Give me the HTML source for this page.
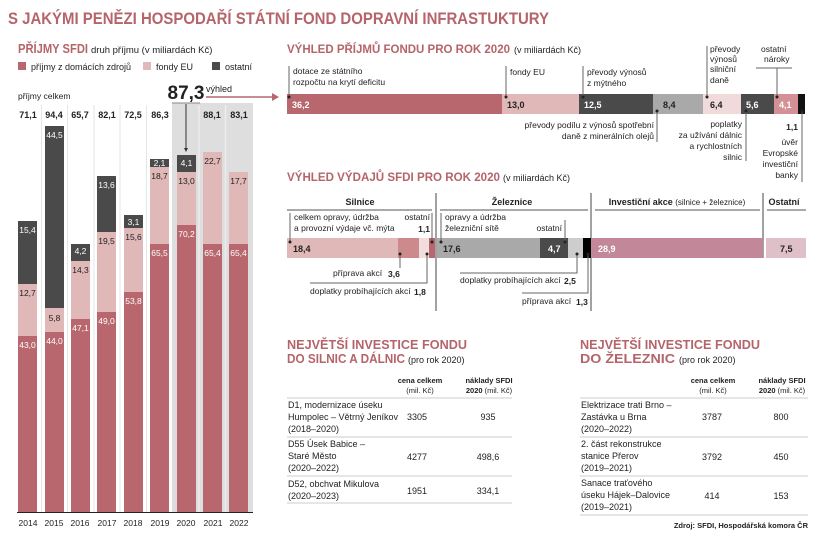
<!DOCTYPE html>
<html><head><meta charset="utf-8"><style>
html,body{margin:0;padding:0;background:#fff}
svg{display:block}
text{font-family:"Liberation Sans",sans-serif;fill:#222}
.b{font-weight:bold}
.r{fill:#b5646a}
.s{font-size:8px}
.w{fill:#fff}
</style></head><body>
<svg width="820" height="544" viewBox="0 0 820 544" xmlns="http://www.w3.org/2000/svg">
<!-- main title -->
<text x="8" y="24" class="b r" font-size="17" textLength="541" lengthAdjust="spacingAndGlyphs">S JAKÝMI PENĚZI HOSPODAŘÍ STÁTNÍ FOND DOPRAVNÍ INFRASTUKTURY</text>
<text x="18" y="53" class="b r" font-size="12.5" textLength="70" lengthAdjust="spacingAndGlyphs">PŘÍJMY SFDI</text>
<text x="91" y="53" font-size="9.5">druh příjmu (v miliardách Kč)</text>
<rect x="18" y="62" width="8" height="8" fill="#b7676d"/><text x="31" y="70" font-size="9">příjmy z domácích zdrojů</text>
<rect x="143" y="62" width="8" height="8" fill="#e0b8b8"/><text x="156" y="70" font-size="9">fondy EU</text>
<rect x="212" y="62" width="8" height="8" fill="#4a4a4a"/><text x="225" y="70" font-size="9">ostatní</text>

<!-- left chart backgrounds -->
<rect x="172" y="103" width="81" height="409" fill="#dedede"/>
<g stroke="#e6e6e6" stroke-width="1">
<line x1="41.5" y1="105" x2="41.5" y2="512"/><line x1="67.5" y1="105" x2="67.5" y2="512"/><line x1="94" y1="105" x2="94" y2="512"/><line x1="120" y1="105" x2="120" y2="512"/><line x1="146.5" y1="105" x2="146.5" y2="512"/>
</g>
<g stroke="#ececec" stroke-width="1.5"><line x1="199" y1="105" x2="199" y2="512"/><line x1="225.5" y1="105" x2="225.5" y2="512"/></g>
<text x="18" y="99" font-size="8.5">příjmy celkem</text>
<g class="b" font-size="9" text-anchor="middle">
<text x="28" y="118">71,1</text><text x="54" y="118">94,4</text><text x="80" y="118">65,7</text><text x="107" y="118">82,1</text><text x="133" y="118">72,5</text><text x="160" y="118">86,3</text><text x="212" y="118">88,1</text><text x="239" y="118">83,1</text>
</g>
<text x="186" y="99" class="b" font-size="19" text-anchor="middle">87,3</text>
<text x="206" y="92" font-size="9">výhled</text>
<line x1="172" y1="103" x2="200" y2="103" stroke="#888"/>
<line x1="206" y1="97" x2="272" y2="97" stroke="#b7676d" stroke-width="1.5"/>
<polygon points="272,93 279,97 272,101" fill="#b7676d"/>
<line x1="186" y1="104" x2="186" y2="150" stroke="#333"/>
<polygon points="184,148 188,148 186,152" fill="#333"/>

<!-- bars -->
<g>
<rect x="18" y="336" width="19" height="176" fill="#b7676d"/><rect x="18" y="284" width="19" height="52" fill="#e0b8b8"/><rect x="18" y="221" width="19" height="63" fill="#4a4a4a"/>
<rect x="45" y="332" width="19" height="180" fill="#b7676d"/><rect x="45" y="308" width="19" height="24" fill="#e0b8b8"/><rect x="45" y="126" width="19" height="182" fill="#4a4a4a"/>
<rect x="71" y="319" width="19" height="193" fill="#b7676d"/><rect x="71" y="261" width="19" height="58" fill="#e0b8b8"/><rect x="71" y="244" width="19" height="17" fill="#4a4a4a"/>
<rect x="97" y="312" width="19" height="200" fill="#b7676d"/><rect x="97" y="232" width="19" height="80" fill="#e0b8b8"/><rect x="97" y="176" width="19" height="56" fill="#4a4a4a"/>
<rect x="124" y="292" width="19" height="220" fill="#b7676d"/><rect x="124" y="228" width="19" height="64" fill="#e0b8b8"/><rect x="124" y="215" width="19" height="13" fill="#4a4a4a"/>
<rect x="150" y="244" width="19" height="268" fill="#b7676d"/><rect x="150" y="167" width="19" height="77" fill="#e0b8b8"/><rect x="150" y="159" width="19" height="8" fill="#4a4a4a"/>
<rect x="177" y="225" width="19" height="287" fill="#b7676d"/><rect x="177" y="172" width="19" height="53" fill="#e0b8b8"/><rect x="177" y="155" width="19" height="17" fill="#4a4a4a"/>
<rect x="203" y="244" width="19" height="268" fill="#b7676d"/><rect x="203" y="152" width="19" height="92" fill="#e0b8b8"/>
<rect x="229" y="244" width="19" height="268" fill="#b7676d"/><rect x="229" y="172" width="19" height="72" fill="#e0b8b8"/>
</g>
<g font-size="8.5" text-anchor="middle">
<text x="27.5" y="348" class="w">43,0</text><text x="27.5" y="296">12,7</text><text x="27.5" y="233" class="w">15,4</text>
<text x="54.5" y="344" class="w">44,0</text><text x="54.5" y="321">5,8</text><text x="54.5" y="138" class="w">44,5</text>
<text x="80.5" y="331" class="w">47,1</text><text x="80.5" y="273">14,3</text><text x="80.5" y="254" class="w">4,2</text>
<text x="106.5" y="324" class="w">49,0</text><text x="106.5" y="244">19,5</text><text x="106.5" y="188" class="w">13,6</text>
<text x="133.5" y="304" class="w">53,8</text><text x="133.5" y="240">15,6</text><text x="133.5" y="225" class="w">3,1</text>
<text x="159.5" y="256" class="w">65,5</text><text x="159.5" y="179">18,7</text><text x="159.5" y="166" class="w">2,1</text>
<text x="186.5" y="237" class="w">70,2</text><text x="186.5" y="184">13,0</text><text x="186.5" y="166" class="w">4,1</text>
<text x="212.5" y="256" class="w">65,4</text><text x="212.5" y="164">22,7</text>
<text x="238.5" y="256" class="w">65,4</text><text x="238.5" y="184">17,7</text>
</g>
<line x1="17" y1="512.5" x2="253" y2="512.5" stroke="#222"/>
<g font-size="8.5" text-anchor="middle">
<text x="28" y="526">2014</text><text x="54" y="526">2015</text><text x="80" y="526">2016</text><text x="107" y="526">2017</text><text x="133" y="526">2018</text><text x="160" y="526">2019</text><text x="186" y="526">2020</text><text x="213" y="526">2021</text><text x="239" y="526">2022</text>
</g>

<!-- income outlook -->
<text x="287" y="53" class="b r" font-size="12" textLength="223" lengthAdjust="spacingAndGlyphs">VÝHLED PŘÍJMŮ FONDU PRO ROK 2020</text>
<text x="514" y="53" font-size="9">(v miliardách Kč)</text>
<rect x="287" y="94" width="215" height="20" fill="#b7676d"/>
<rect x="502" y="94" width="77" height="20" fill="#e0b8b8"/>
<rect x="579" y="94" width="74" height="20" fill="#4a4a4a"/>
<rect x="653" y="94" width="50" height="20" fill="#a9a9a9"/>
<rect x="703" y="94" width="38" height="20" fill="#f0dada"/>
<rect x="741" y="94" width="33" height="20" fill="#4a4a4a"/>
<rect x="774" y="94" width="24" height="20" fill="#d39095"/>
<rect x="798" y="94" width="7" height="20" fill="#111"/>
<g font-size="9" class="b">
<text x="292" y="108" class="w">36,2</text><text x="507" y="108">13,0</text><text x="584" y="108" class="w">12,5</text><text x="663" y="108">8,4</text><text x="710" y="108">6,4</text><text x="746" y="108" class="w">5,6</text><text x="779" y="108" class="w">4,1</text>
</g>
<g stroke="#666" stroke-width="1" fill="none">
<line x1="289" y1="66" x2="289" y2="97"/><line x1="506" y1="66" x2="506" y2="97"/><line x1="583" y1="66" x2="583" y2="97"/><line x1="707" y1="46" x2="707" y2="97"/>
<polyline points="756,68 792,68"/><line x1="777" y1="68" x2="777" y2="97"/>
<line x1="657" y1="111" x2="657" y2="142"/><line x1="746" y1="111" x2="746" y2="161"/><line x1="802" y1="111" x2="802" y2="182"/>
</g>
<g fill="#222"><circle cx="289" cy="97" r="1.5"/><circle cx="506" cy="97" r="1.5"/><circle cx="583" cy="97" r="1.5"/><circle cx="707" cy="97" r="1.5"/><circle cx="777" cy="97" r="1.5"/><circle cx="657" cy="111" r="1.5"/><circle cx="746" cy="111" r="1.5"/><circle cx="802" cy="111" r="1.5"/></g>
<g font-size="8.5">
<text x="293" y="74">dotace ze státního</text><text x="293" y="85">rozpočtu na krytí deficitu</text>
<text x="510" y="75">fondy EU</text>
<text x="587" y="75">převody výnosů</text><text x="587" y="86">z mýtného</text>
<text x="710" y="52">převody</text><text x="710" y="62">výnosů</text><text x="710" y="72">silniční</text><text x="710" y="83">daně</text>
<text x="761" y="52">ostatní</text><text x="764" y="62">nároky</text>
<g text-anchor="end">
<text x="654" y="128">převody podílu z výnosů spotřební</text><text x="654" y="139">daně z minerálních olejů</text>
<text x="742" y="127">poplatky</text><text x="742" y="138">za užívání dálnic</text><text x="742" y="149">a rychlostních</text><text x="742" y="160">silnic</text>
<text x="798" y="130" class="b">1,1</text>
<text x="798" y="145">úvěr</text><text x="798" y="156">Evropské</text><text x="798" y="167">investiční</text><text x="798" y="178">banky</text>
</g>
</g>

<!-- expenditure outlook -->
<text x="287" y="181" class="b r" font-size="12" textLength="213" lengthAdjust="spacingAndGlyphs">VÝHLED VÝDAJŮ SFDI PRO ROK 2020</text>
<text x="503" y="181" font-size="9">(v miliardách Kč)</text>
<g class="b" font-size="9" text-anchor="middle">
<text x="360" y="205">Silnice</text><text x="512" y="205">Železnice</text><text x="784" y="205">Ostatní</text>
</g>
<text x="677" y="205" font-size="9" text-anchor="middle"><tspan class="b">Investiční akce</tspan> <tspan font-size="8">(silnice + železnice)</tspan></text>
<g stroke="#555"><line x1="287" y1="210" x2="432" y2="210"/><line x1="440" y1="210" x2="588" y2="210"/><line x1="595" y1="210" x2="760" y2="210"/><line x1="767" y1="210" x2="806" y2="210"/></g>
<g stroke="#444"><line x1="436" y1="193" x2="436" y2="311"/><line x1="591" y1="193" x2="591" y2="311"/><line x1="763" y1="193" x2="763" y2="258"/></g>
<rect x="287" y="238" width="111" height="20" fill="#e0b8b8"/>
<rect x="398" y="238" width="21" height="20" fill="#cc8a8d"/>
<rect x="419" y="238" width="10" height="20" fill="#f3dcdc"/>
<rect x="429" y="238" width="6" height="20" fill="#b7676d"/>
<rect x="437" y="238" width="103" height="20" fill="#a9a9a9"/>
<rect x="540" y="238" width="28" height="20" fill="#4a4a4a"/>
<rect x="568" y="238" width="15" height="20" fill="#cdcdcd"/>
<rect x="583" y="238" width="8" height="20" fill="#000"/>
<rect x="591" y="238" width="172" height="20" fill="#c2889a"/>
<rect x="766" y="238" width="40" height="20" fill="#e0c0c8"/>
<g font-size="9" class="b">
<text x="293" y="252">18,4</text><text x="443" y="252">17,6</text><text x="548" y="252" class="w">4,7</text><text x="598" y="252" class="w">28,9</text><text x="780" y="252">7,5</text>
</g>
<g stroke="#666" fill="none">
<line x1="290" y1="213" x2="290" y2="242"/><line x1="432" y1="213" x2="432" y2="242"/><line x1="441" y1="213" x2="441" y2="242"/><line x1="565" y1="220" x2="565" y2="242"/>
<line x1="400" y1="254" x2="400" y2="268"/>
<polyline points="310,283 427,283 427,254"/>
<polyline points="460,273 577,273 577,254"/>
<polyline points="522,293 588,293 588,254"/>
</g>
<g fill="#222"><circle cx="290" cy="242" r="1.5"/><circle cx="432" cy="242" r="1.5"/><circle cx="441" cy="242" r="1.5"/><circle cx="565" cy="242" r="1.5"/><circle cx="400" cy="254" r="1.5"/><circle cx="427" cy="254" r="1.5"/><circle cx="577" cy="254" r="1.5"/><circle cx="588" cy="254" r="1.5"/></g>
<g font-size="8.5">
<text x="294" y="220">celkem opravy, údržba</text><text x="294" y="231">a provozní výdaje vč. mýta</text>
<text x="430" y="220" text-anchor="end">ostatní</text><text x="430" y="232" text-anchor="end" class="b">1,1</text>
<text x="445" y="220">opravy a údržba</text><text x="445" y="231">železniční sítě</text>
<text x="562" y="231" text-anchor="end">ostatní</text>
<text x="333" y="276">příprava akcí</text><text x="388" y="277" class="b">3,6</text>
<text x="310" y="294">doplatky probíhajících akcí</text><text x="414" y="295" class="b">1,8</text>
<text x="460" y="283">doplatky probíhajících akcí</text><text x="564" y="284" class="b">2,5</text>
<text x="522" y="304">příprava akcí</text><text x="576" y="305" class="b">1,3</text>
</g>

<!-- left table -->
<text x="287" y="349" class="b r" font-size="12.5" textLength="180" lengthAdjust="spacingAndGlyphs">NEJVĚTŠÍ INVESTICE FONDU</text>
<text x="287" y="363" class="b r" font-size="12.5" textLength="118" lengthAdjust="spacingAndGlyphs">DO SILNIC A DÁLNIC</text>
<text x="408" y="363" font-size="9">(pro rok 2020)</text>
<g font-size="7.5" text-anchor="middle">
<text x="420" y="383" class="b">cena celkem</text><text x="420" y="393">(mil. Kč)</text>
<text x="489" y="383" class="b">náklady SFDI</text><text x="489" y="393"><tspan class="b">2020</tspan> (mil. Kč)</text>
</g>
<g font-size="9">
<text x="288" y="408">D1, modernizace úseku</text><text x="288" y="420">Humpolec – Větrný Jeníkov</text><text x="288" y="432">(2018–2020)</text>
<text x="288" y="447">D55 Úsek Babice –</text><text x="288" y="459">Staré Město</text><text x="288" y="471">(2020–2022)</text>
<text x="288" y="487">D52, obchvat Mikulova</text><text x="288" y="499">(2020–2023)</text>
<g text-anchor="middle"><text x="417" y="420">3305</text><text x="488" y="420">935</text><text x="417" y="460">4277</text><text x="488" y="460">498,6</text><text x="417" y="494">1951</text><text x="488" y="494">334,1</text></g>
</g>
<g stroke="#ccc"><line x1="287" y1="398" x2="512" y2="398"/><line x1="287" y1="437" x2="512" y2="437"/><line x1="287" y1="476" x2="512" y2="476"/><line x1="287" y1="503" x2="512" y2="503"/></g>

<!-- right table -->
<text x="580" y="349" class="b r" font-size="12.5" textLength="180" lengthAdjust="spacingAndGlyphs">NEJVĚTŠÍ INVESTICE FONDU</text>
<text x="580" y="363" class="b r" font-size="12.5" textLength="95" lengthAdjust="spacingAndGlyphs">DO ŽELEZNIC</text>
<text x="679" y="363" font-size="9">(pro rok 2020)</text>
<g font-size="7.5" text-anchor="middle">
<text x="713" y="383" class="b">cena celkem</text><text x="713" y="393">(mil. Kč)</text>
<text x="782" y="383" class="b">náklady SFDI</text><text x="782" y="393"><tspan class="b">2020</tspan> (mil. Kč)</text>
</g>
<g font-size="9">
<text x="581" y="408">Elektrizace trati Brno –</text><text x="581" y="420">Zastávka u Brna</text><text x="581" y="432">(2020–2022)</text>
<text x="581" y="447">2. část rekonstrukce</text><text x="581" y="459">stanice Přerov</text><text x="581" y="471">(2019–2021)</text>
<text x="581" y="486">Sanace traťového</text><text x="581" y="498">úseku Hájek–Dalovice</text><text x="581" y="510">(2019–2021)</text>
<g text-anchor="middle"><text x="712" y="420">3787</text><text x="781" y="420">800</text><text x="712" y="460">3792</text><text x="781" y="460">450</text><text x="712" y="499">414</text><text x="781" y="499">153</text></g>
</g>
<g stroke="#ccc"><line x1="580" y1="398" x2="808" y2="398"/><line x1="580" y1="437" x2="808" y2="437"/><line x1="580" y1="476" x2="808" y2="476"/><line x1="580" y1="515" x2="808" y2="515"/></g>

<text x="808" y="528" class="b" font-size="7.5" text-anchor="end">Zdroj: SFDI, Hospodářská komora ČR</text>
</svg>
</body></html>
